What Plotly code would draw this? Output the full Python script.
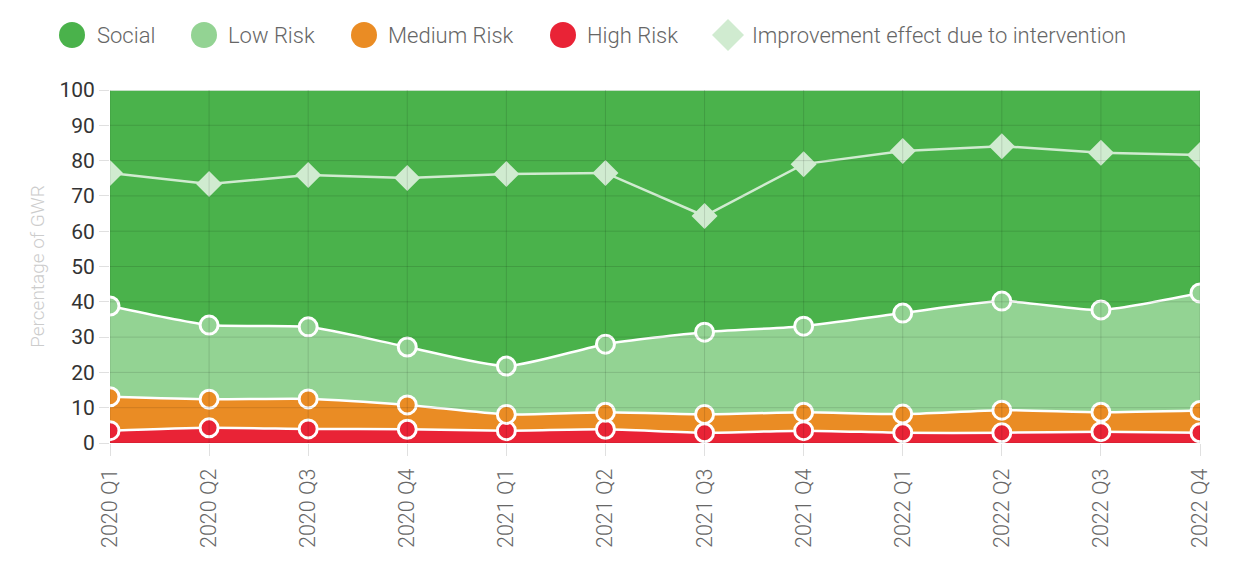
import plotly.graph_objects as go

quarters = ["2020 Q1", "2020 Q2", "2020 Q3", "2020 Q4",
            "2021 Q1", "2021 Q2", "2021 Q3", "2021 Q4",
            "2022 Q1", "2022 Q2", "2022 Q3", "2022 Q4"]

high_risk = [3.5, 4.3, 4.0, 3.9, 3.5, 3.9, 2.9, 3.5, 2.9, 2.9, 3.2, 2.9]
medium_risk = [9.6, 8.1, 8.5, 6.9, 4.6, 4.8, 5.2, 5.2, 5.3, 6.4, 5.5, 6.3]
low_risk = [25.7, 21.0, 20.4, 16.4, 13.7, 19.3, 23.3, 24.4, 28.6, 30.9, 29.0, 33.3]
social = [61.2, 66.6, 67.1, 72.8, 78.2, 72.0, 68.6, 66.9, 63.2, 59.8, 62.3, 57.5]
improvement = [76.5, 73.4, 75.9, 75.1, 76.2, 76.5, 64.3, 79.0, 82.7, 84.1, 82.2, 81.6]

y_ticks = [0, 10, 20, 30, 40, 50, 60, 70, 80, 90, 100]
legend_names = ["Social", "Low Risk", "Medium Risk", "High Risk",
                "Improvement effect due to intervention"]

C_SOCIAL = "rgb(74,178,75)"
C_LOW = "rgb(147,211,147)"
C_MED = "rgb(234,140,36)"
C_HIGH = "rgb(233,35,54)"
C_IMP = "rgb(208,235,208)"
legend_colors = [C_SOCIAL, C_LOW, C_MED, C_HIGH, C_IMP]
legend_symbols = ["circle", "circle", "circle", "circle", "diamond"]

FONT = "Roboto"

# plot area geometry (pixels)
W, H = 1236, 586
ML, MR, MT, MB = 110, 36, 90, 143
PW, PH = W - ML - MR, H - MT - MB


def px_to_paper(px, py):
    return (px - ML) / PW, (H - MB - py) / PH


fig = go.Figure()

series = [
    ("High Risk", high_risk, C_HIGH),
    ("Medium Risk", medium_risk, C_MED),
    ("Low Risk", low_risk, C_LOW),
]
for name, vals, col in series:
    fig.add_trace(go.Scatter(
        x=quarters, y=vals, name=name, stackgroup="one",
        mode="lines+markers", fillcolor=col,
        line=dict(color="white", width=2.5, shape="spline", smoothing=0.6),
        marker=dict(size=18, color=col, line=dict(color="white", width=3)),
        showlegend=False,
    ))
fig.add_trace(go.Scatter(
    x=quarters, y=social, name="Social", stackgroup="one",
    mode="lines", fillcolor=C_SOCIAL,
    line=dict(color="white", width=1.5, shape="spline", smoothing=0.6),
    showlegend=False,
))
fig.add_trace(go.Scatter(
    x=quarters, y=improvement, name="Improvement effect due to intervention",
    mode="lines+markers",
    line=dict(color=C_IMP, width=2.5),
    marker=dict(symbol="diamond", size=20, color=C_IMP),
    showlegend=False,
))

# gridlines drawn above fills
shapes = []
for yv in y_ticks:
    shapes.append(dict(type="line", xref="paper", yref="y", x0=0, x1=1, y0=yv, y1=yv,
                       line=dict(color="rgba(0,0,0,0.12)", width=1), layer="above"))
for q in quarters:
    shapes.append(dict(type="line", xref="x", yref="paper", x0=q, x1=q, y0=0, y1=1,
                       line=dict(color="rgba(0,0,0,0.12)", width=1), layer="above"))

# custom legend (large symbols, like the original)
symbol_x = [72, 204, 364, 563, 728]
text_x = [95, 226, 386, 585, 750]
legend_y = 35
annotations = []
for name, col, sym, sx, tx in zip(legend_names, legend_colors, legend_symbols, symbol_x, text_x):
    ax, ay = px_to_paper(sx, legend_y)
    if sym == "circle":
        shapes.append(dict(type="circle", xref="paper", yref="paper",
                           xsizemode="pixel", ysizemode="pixel", xanchor=ax, yanchor=ay,
                           x0=-13, x1=13, y0=-13, y1=13,
                           fillcolor=col, line=dict(width=0)))
    else:
        shapes.append(dict(type="path", xref="paper", yref="paper",
                           xsizemode="pixel", ysizemode="pixel", xanchor=ax, yanchor=ay,
                           path="M 0 16 L 16 0 L 0 -16 L -16 0 Z",
                           fillcolor=col, line=dict(width=0)))
    tx_p, ty_p = px_to_paper(tx, legend_y)
    annotations.append(dict(text=name, x=tx_p, y=ty_p, xref="paper", yref="paper",
                            xanchor="left", yanchor="middle", showarrow=False,
                            font=dict(family=FONT, size=22, color="#666", weight=300)))

fig.update_layout(
    width=W, height=H,
    margin=dict(l=ML, r=MR, t=MT, b=MB),
    paper_bgcolor="white", plot_bgcolor="white",
    shapes=shapes, annotations=annotations,
    showlegend=False,
    xaxis=dict(type="category", range=[0, 11], showgrid=False, zeroline=False,
               tickangle=-90, ticks="outside", ticklen=12, tickcolor="rgba(0,0,0,0.12)",
               ticklabelstandoff=4,
               tickfont=dict(family=FONT, size=21.5, color="#666", weight=300),
               showline=False),
    yaxis=dict(range=[0, 100], tickvals=y_ticks, showgrid=False, zeroline=False,
               ticks="outside", ticklen=10, tickcolor="rgba(0,0,0,0.12)",
               tickfont=dict(family=FONT, size=21, color="#333"),
               title=dict(text="Percentage of GWR",
                          font=dict(family=FONT, size=19, color="#ccc", weight=300),
                          standoff=9),
               showline=False),
)

fig.write_html("out.html")
